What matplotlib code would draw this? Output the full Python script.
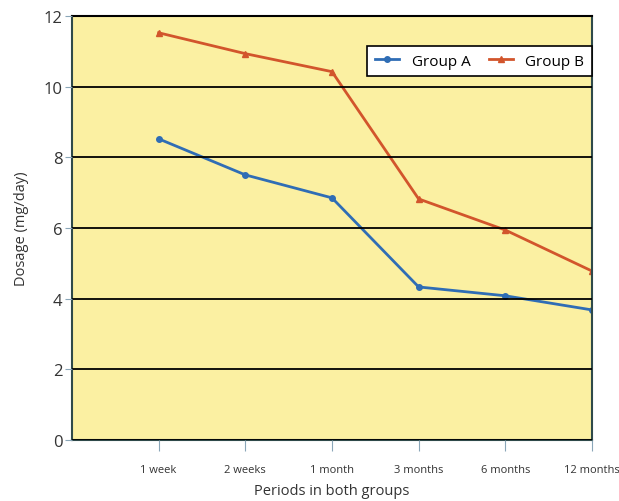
import matplotlib.pyplot as plt

periods = ['1 week', '2 weeks', '1 month', '3 months', '6 months', '12 months']
group_a = [8.52, 7.5, 6.85, 4.33, 4.08, 3.68]
group_b = [11.52, 10.93, 10.42, 6.82, 5.94, 4.78]

plt.rcParams['font.family'] = ['Open Sans', 'DejaVu Sans']

fig = plt.figure(figsize=(6.19, 5.02), dpi=100)
ax = fig.add_axes([0.1163, 0.1215, 0.84, 0.845])
ax.set_facecolor('#fbf0a2')

x = list(range(1, len(periods) + 1))
ax.plot(x, group_a, color='#2f6db5', lw=2, marker='o', ms=4, label='Group A')
ax.plot(x, group_b, color='#d2552c', lw=2, marker='^', ms=5, label='Group B')

ax.set_xlim(0, 6)
ax.set_ylim(0, 12)
ax.set_yticks(range(0, 13, 2))
ax.set_xticks(x)
ax.set_xticklabels(periods, fontsize=8, color='#333333')
ax.tick_params(axis='x', length=8, pad=9, color='#8aa6b8')
ax.tick_params(axis='y', labelsize=12, length=5, pad=2, color='#8aa6b8', labelcolor='#333333')
ax.yaxis.grid(True, color='black', lw=1.3)
ax.set_axisbelow(False)

for s in ['left', 'right', 'bottom', 'top']:
    ax.spines[s].set_color('#2f4a4a')
    ax.spines[s].set_linewidth(1.5)
ax.spines['top'].set_color('black')

ax.set_xlabel('Periods in both groups', fontsize=10.5, color='#333333', labelpad=6)
ax.set_ylabel('Dosage (mg/day)', fontsize=10.5, color='#333333', labelpad=10)

leg = ax.legend(loc='upper right', bbox_to_anchor=(1.0, 0.929), ncol=2, fontsize=11,
                frameon=True, fancybox=False, edgecolor='black', framealpha=1,
                handlelength=1.6, columnspacing=1.2, borderpad=0.5, borderaxespad=0)
leg.get_frame().set_linewidth(1.2)

fig.savefig('out.png', dpi=100)
